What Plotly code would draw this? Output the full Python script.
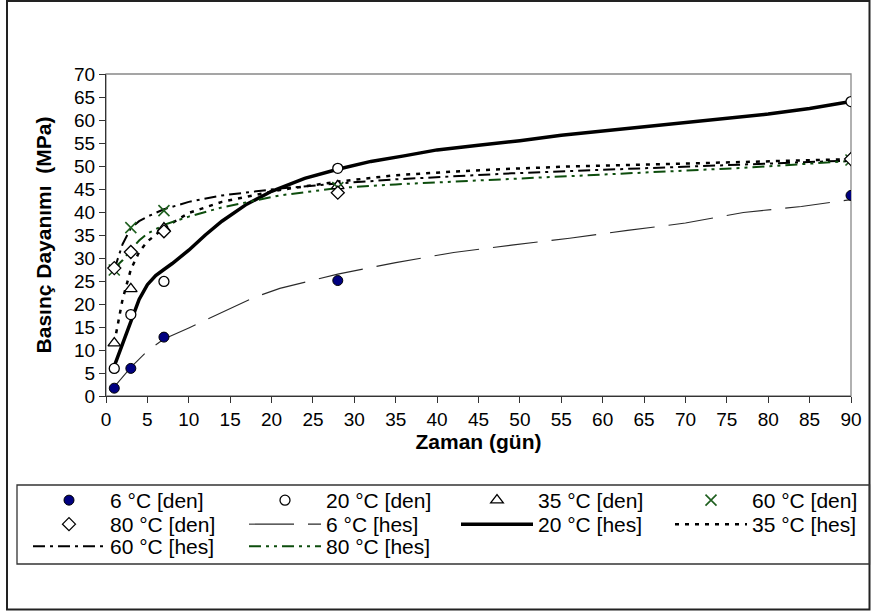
import plotly.graph_objects as go

# ---------------- data ----------------
days_den = [1, 3, 7, 28, 90]
den_6 = [1.7, 6.0, 12.8, 25.1, 43.6]
den_20 = [6.0, 17.7, 24.9, 49.5, 64.0]
den_35 = [11.5, 23.3, 36.5, 45.7, 51.6]
den_60 = [27.4, 36.6, 40.3, 45.3, 51.3]
den_80 = [27.8, 31.3, 35.8, 44.2, 51.5]

days_hes_6 = [1, 2, 3, 5, 7, 10, 14, 18, 21, 24, 28, 35, 42, 49, 56, 63, 70, 77, 84, 90]
hes_6 = [2.0, 4.2, 6.2, 9.8, 12.4, 14.8, 18.2, 21.5, 23.4, 24.8, 26.5, 29.0, 31.2, 32.8,
         34.3, 36.0, 37.6, 39.9, 41.2, 42.7]

days_hes_20 = [1, 2, 3, 4, 5, 6, 7, 8, 10, 12, 14, 17, 20, 24, 28, 32, 36, 40, 45, 50,
               55, 60, 70, 80, 85, 90]
hes_20 = [6.5, 11.5, 16.5, 21.0, 24.2, 26.2, 27.5, 28.8, 31.7, 35.0, 38.0, 41.7, 44.5,
          47.3, 49.3, 51.0, 52.2, 53.5, 54.5, 55.5, 56.7, 57.6, 59.4, 61.3, 62.5, 64.0]

days_hes = [1, 2, 3, 4, 5, 7, 10, 14, 21, 28, 35, 42, 49, 56, 63, 70, 77, 84, 90]
hes_35 = [11.5, 21.0, 27.5, 31.3, 33.6, 36.5, 39.8, 42.2, 44.8, 46.6, 48.0, 48.8, 49.4,
          49.9, 50.2, 50.5, 50.8, 51.1, 51.5]
hes_60 = [27.5, 33.0, 36.5, 38.0, 39.0, 40.6, 42.2, 43.6, 45.1, 46.2, 47.1, 47.8, 48.4,
          48.9, 49.4, 49.9, 50.4, 50.8, 51.2]
hes_80 = [27.8, 29.5, 31.8, 33.8, 35.3, 37.2, 39.0, 41.0, 43.6, 45.2, 46.0, 46.6, 47.1,
          47.7, 48.3, 48.9, 49.6, 50.4, 51.1]

x_ticks = list(range(0, 95, 5))
y_ticks = list(range(0, 75, 5))

# ---------------- layout geometry ----------------
W, H = 871, 611
ML, MR, MT, MB = 106, 20, 74, 215
PW, PH = W - ML - MR, H - MT - MB
PLOT_BOTTOM = MT + PH


def px_x(px):
    return (px - ML) / PW


def px_y(py):
    return (PLOT_BOTTOM - py) / PH


FONT = "Liberation Sans, Arial, sans-serif"
GREEN = "#1f5f1f"
DKGREEN = "#0d4d0d"
COL_W = [129, 125, 127, 120]

fig = go.Figure()

# hes lines
fig.add_trace(go.Scatter(x=days_hes_6, y=hes_6, mode="lines", name="6 °C [hes]",
                         line=dict(color="#2a2a2a", width=1.1, dash="45px,14px"),
                         legend="legend3", legendrank=2, legendwidth=COL_W[1]))
fig.add_trace(go.Scatter(x=days_hes_20, y=hes_20, mode="lines", name="20 °C [hes]",
                         line=dict(color="black", width=3.5),
                         legend="legend4", legendrank=1, legendwidth=COL_W[2]))
fig.add_trace(go.Scatter(x=days_hes, y=hes_35, mode="lines", name="35 °C [hes]",
                         line=dict(color="black", width=2.5, dash="4px,6px"),
                         legend="legend4", legendrank=2, legendwidth=COL_W[3]))
fig.add_trace(go.Scatter(x=days_hes, y=hes_60, mode="lines", name="60 °C [hes]",
                         line=dict(color="black", width=2, dash="12px,5px,3px,5px"),
                         legend="legend5", legendrank=1, legendwidth=COL_W[0]))
fig.add_trace(go.Scatter(x=days_hes, y=hes_80, mode="lines", name="80 °C [hes]",
                         line=dict(color=DKGREEN, width=2, dash="12px,5px,3px,5px,3px,5px"),
                         legend="legend5", legendrank=2, legendwidth=COL_W[1]))

# den markers
fig.add_trace(go.Scatter(x=days_den, y=den_6, mode="markers", name="6 °C [den]",
                         marker=dict(symbol="circle", size=10, color="#000080",
                                     line=dict(color="black", width=1)),
                         legend="legend", legendrank=1, legendwidth=COL_W[0]))
fig.add_trace(go.Scatter(x=days_den, y=den_20, mode="markers", name="20 °C [den]",
                         marker=dict(symbol="circle", size=10, color="white",
                                     line=dict(color="black", width=1.3)),
                         legend="legend", legendrank=2, legendwidth=COL_W[1]))
fig.add_trace(go.Scatter(x=days_den, y=den_35, mode="markers", name="35 °C [den]",
                         marker=dict(symbol="triangle-up", size=11, color="white",
                                     line=dict(color="black", width=1.3)),
                         legend="legend2", legendrank=1, legendwidth=COL_W[2]))
fig.add_trace(go.Scatter(x=days_den, y=den_60, mode="markers", name="60 °C [den]",
                         marker=dict(symbol="x-thin", size=11, color=GREEN,
                                     line=dict(color=GREEN, width=1.6)),
                         legend="legend2", legendrank=2, legendwidth=COL_W[3]))
fig.add_trace(go.Scatter(x=days_den, y=den_80, mode="markers", name="80 °C [den]",
                         marker=dict(symbol="diamond", size=10, color="white",
                                     line=dict(color="black", width=1.3)),
                         legend="legend3", legendrank=1, legendwidth=COL_W[0]))

leg_common = dict(orientation="h", xanchor="left", yanchor="top", borderwidth=0,
                  bgcolor="rgba(0,0,0,0)", itemwidth=72,
                  font=dict(family=FONT, size=21, color="black"),
                  itemclick=False, itemdoubleclick=False)

X_A = px_x(28)    # columns 1-2
X_B = px_x(456)   # columns 3-4
ROW_Y = [px_y(480), px_y(504), px_y(526)]

fig.update_layout(
    width=W, height=H,
    margin=dict(l=ML, r=MR, t=MT, b=MB, autoexpand=False),
    paper_bgcolor="white", plot_bgcolor="white",
    font=dict(family=FONT, size=19, color="black"),
    showlegend=True,
    legend=dict(x=X_A, y=ROW_Y[0], **leg_common),
    legend2=dict(x=X_B, y=ROW_Y[0], **leg_common),
    legend3=dict(x=X_A, y=ROW_Y[1], **leg_common),
    legend4=dict(x=X_B, y=ROW_Y[1], **leg_common),
    legend5=dict(x=X_A, y=ROW_Y[2], **leg_common),
    xaxis=dict(range=[0, 90], tickmode="array", tickvals=x_ticks,
               ticktext=[str(v) for v in x_ticks],
               showgrid=False, zeroline=False, showline=True, linecolor="#333",
               linewidth=1.3, ticks="outside", ticklen=6, tickcolor="#333",
               tickfont=dict(size=19),
               title=dict(text="<b>Zaman (gün)</b>", font=dict(size=21), standoff=2)),
    yaxis=dict(range=[0, 70], tickmode="array", tickvals=y_ticks,
               ticktext=[str(v) for v in y_ticks],
               showgrid=False, zeroline=False, showline=True, linecolor="#333",
               linewidth=1.3, ticks="outside", ticklen=6, tickcolor="#333",
               tickfont=dict(size=19),
               title=dict(text="<b>Basınç Dayanımı\u00a0 (MPa)</b>", font=dict(size=21),
                          standoff=16)),
    shapes=[
        dict(type="rect", xref="paper", yref="paper", x0=0, x1=1, y0=0, y1=1,
             line=dict(color="#888", width=1.3), layer="below"),
        dict(type="rect", xref="paper", yref="paper", x0=px_x(7), x1=px_x(869.5),
             y0=px_y(609.5), y1=px_y(1), line=dict(color="#222", width=2)),
        dict(type="rect", xref="paper", yref="paper", x0=px_x(17), x1=px_x(869.5),
             y0=px_y(564), y1=px_y(485), line=dict(color="#333", width=1.3)),
    ],
)

fig.write_html("out.html")
